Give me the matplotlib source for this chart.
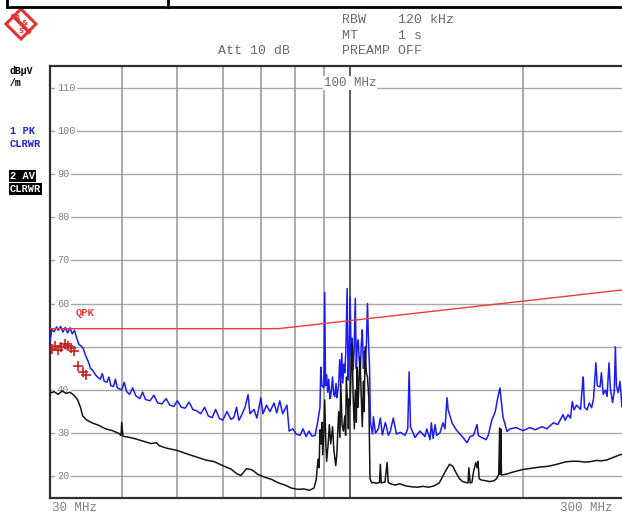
import matplotlib
matplotlib.use('Agg')
import matplotlib.pyplot as plt
from matplotlib.lines import Line2D
from matplotlib.patches import Polygon


W, H = 622, 514

# trace 1: peak detector, (MHz, dBuV/m)
pk_trace = [
    (30.0, 51.0), (30.2, 54.0), (30.5, 53.5), (30.8, 54.6), (31.0, 53.8), (31.3, 54.7),
    (31.6, 53.4), (31.9, 54.5), (32.2, 53.2), (32.5, 54.4), (32.8, 53.0), (33.1, 53.8),
    (33.4, 52.0), (33.7, 50.5), (34.0, 50.2), (34.3, 49.5), (34.6, 48.0), (35.0, 46.5),
    (35.3, 45.0), (35.6, 44.6), (36.0, 43.5), (36.3, 43.0), (36.7, 42.5), (37.0, 43.8),
    (37.3, 42.0), (37.7, 41.8), (38.0, 43.0), (38.3, 41.0), (38.7, 40.8), (39.0, 42.5),
    (39.3, 40.5), (39.7, 40.2), (40.0, 40.0), (40.4, 41.8), (40.8, 39.6), (41.3, 39.0),
    (41.8, 40.5), (42.3, 38.7), (43.0, 38.0), (43.5, 39.5), (44.0, 37.8), (44.8, 37.5),
    (45.5, 38.8), (46.2, 37.0), (47.0, 36.8), (47.8, 38.0), (48.5, 36.5), (49.3, 36.2),
    (50.0, 37.5), (50.8, 36.0), (51.6, 35.8), (52.4, 37.2), (53.2, 35.5), (54.0, 35.2),
    (54.9, 34.5), (55.8, 36.0), (56.6, 34.0), (57.5, 33.6), (58.3, 35.5), (59.2, 33.4),
    (60.0, 33.0), (61.0, 35.0), (62.0, 33.2), (62.7, 33.6), (63.4, 36.0), (64.0, 33.0),
    (64.5, 33.8), (65.6, 36.0), (66.4, 38.9), (66.9, 34.5), (68.0, 35.5), (68.8, 33.5),
    (69.9, 38.2), (70.5, 34.5), (71.5, 36.5), (72.5, 35.0), (73.7, 37.0), (74.5, 34.7),
    (75.4, 37.5), (76.3, 34.5), (77.6, 36.5), (78.3, 30.5), (79.5, 31.0), (80.5, 29.8),
    (81.8, 29.5), (82.8, 31.0), (83.8, 29.2), (84.8, 30.5), (85.8, 29.3), (86.9, 29.5),
    (87.9, 33.0), (88.6, 36.0), (88.9, 45.3), (89.3, 41.0), (90.0, 40.5), (90.3, 62.6),
    (90.6, 41.0), (91.0, 43.5), (91.4, 39.5), (91.8, 42.5), (92.2, 38.0), (92.5, 38.4),
    (93.2, 43.0), (93.6, 39.0), (94.0, 38.5), (94.5, 41.5), (94.8, 38.2), (95.2, 40.0),
    (95.5, 41.0), (95.9, 47.0), (96.3, 42.0), (96.7, 48.5), (97.1, 41.6), (97.5, 46.0),
    (97.9, 44.0), (98.3, 49.0), (98.8, 63.5), (99.2, 42.3), (99.6, 48.5), (100.0, 61.5),
    (100.4, 48.0), (100.8, 52.0), (101.2, 44.6), (101.6, 49.0), (102.1, 61.2), (102.5, 45.0),
    (102.9, 50.5), (103.3, 51.6), (103.7, 47.0), (104.2, 44.6), (104.6, 51.0), (105.0, 53.9),
    (105.5, 45.0), (105.9, 49.0), (106.3, 46.0), (106.7, 50.0), (107.2, 60.0), (107.6, 52.0),
    (108.1, 45.0), (108.5, 32.4), (109.4, 29.8),
    (109.8, 33.8), (110.7, 30.0), (112.0, 31.0), (112.9, 33.5), (113.8, 29.6), (115.2, 32.5),
    (116.6, 29.5), (117.5, 30.5), (118.9, 33.5), (120.4, 29.8), (122.4, 30.2), (124.6, 29.5),
    (126.0, 31.0), (126.7, 44.2), (127.4, 31.5), (129.7, 29.0), (132.3, 30.5), (135.0, 29.2),
    (136.0, 31.0), (137.8, 28.5), (138.5, 32.4), (139.5, 28.8), (140.6, 32.0), (141.5, 29.5),
    (143.4, 30.1), (145.1, 32.4), (146.3, 31.0), (147.5, 38.2), (148.2, 35.4), (150.5, 32.4),
    (153.0, 30.8), (157.3, 29.0), (159.8, 27.8), (161.8, 29.2), (164.0, 29.5), (166.4, 32.0),
    (167.2, 29.5), (168.4, 29.2), (172.5, 28.5), (174.0, 29.5), (176.6, 33.1), (179.0, 35.0),
    (180.5, 37.7), (182.4, 40.5), (184.6, 33.8), (187.6, 30.4), (190.0, 31.0), (194.5, 31.3),
    (200.0, 30.6), (205.7, 31.3), (210.0, 30.8), (216.0, 31.5), (220.0, 31.0), (226.0, 32.4),
    (230.0, 32.0), (234.9, 34.3), (237.0, 33.0), (239.7, 34.3), (242.0, 33.5), (243.8, 37.3),
    (245.5, 35.4), (248.0, 36.5), (252.0, 35.5), (253.8, 40.7), (254.8, 43.0), (256.0, 36.0),
    (258.7, 35.4), (261.0, 37.0), (263.5, 35.9), (265.5, 38.0), (268.0, 46.3), (269.5, 41.0),
    (272.5, 40.7), (274.0, 44.0), (276.0, 39.0), (278.5, 40.0), (280.3, 38.5), (282.5, 46.3),
    (284.0, 40.5), (286.5, 37.1), (288.5, 39.5), (289.8, 50.0), (291.0, 41.0), (293.0, 39.4),
    (295.2, 42.0), (297.6, 36.1), (300.0, 37.0),
]

# trace 2: average detector
av_trace = [
    (30.0, 39.3), (30.5, 39.6), (31.0, 39.0), (31.5, 39.8), (32.0, 39.2), (32.5, 39.5),
    (33.0, 38.8), (33.5, 37.8), (33.9, 36.0), (34.2, 34.0), (34.8, 33.0), (35.5, 32.4),
    (36.5, 31.8), (37.5, 31.0), (38.5, 30.6), (39.5, 30.0), (39.9, 29.5), (40.0, 32.5),
    (40.2, 29.3), (41.0, 29.1), (42.0, 28.8), (43.5, 28.2), (45.0, 27.6), (46.0, 27.8),
    (46.5, 27.1), (48.0, 26.5), (50.0, 26.0), (52.0, 25.2), (54.0, 24.5), (56.0, 23.8),
    (58.0, 23.4), (60.0, 22.5), (62.0, 21.7), (63.5, 20.6), (64.5, 20.2), (66.0, 21.8),
    (67.5, 21.5), (69.0, 20.5), (71.0, 19.8), (73.0, 19.3), (75.0, 18.5), (77.0, 18.0),
    (79.0, 17.3), (81.0, 17.0), (83.0, 17.1), (85.0, 16.8), (86.5, 17.3), (87.3, 19.3),
    (87.9, 24.0), (88.3, 22.0), (88.6, 30.8), (89.0, 27.5), (89.3, 32.5), (89.6, 25.0),
    (90.0, 30.5), (90.3, 37.7), (90.7, 28.0), (91.0, 23.5), (91.5, 27.0), (92.0, 32.0),
    (92.5, 27.5), (93.2, 31.5), (93.7, 26.0), (94.4, 22.5), (94.8, 25.0), (95.5, 35.0),
    (96.0, 29.0), (96.3, 42.0), (96.8, 32.0), (97.3, 30.5), (97.9, 34.0), (98.2, 29.5),
    (98.5, 43.0), (99.0, 36.0), (99.3, 31.0), (99.6, 38.0), (100.0, 36.5), (100.4, 45.0),
    (100.8, 50.9), (101.2, 39.0), (101.7, 31.0), (102.1, 40.0), (102.5, 32.5), (102.9, 45.3),
    (103.2, 36.0), (103.5, 40.0), (104.0, 47.6), (104.6, 38.0), (105.0, 31.5), (105.5, 42.0),
    (105.8, 35.0), (106.2, 50.0), (106.7, 44.0), (107.2, 43.0), (107.8, 38.0),
    (108.3, 19.5), (109.0, 18.5), (110.0, 18.6), (111.0, 18.4), (112.5, 18.6), (112.9, 22.8),
    (113.3, 18.5), (115.0, 18.7), (116.0, 23.2), (116.5, 18.6), (118.0, 18.2), (120.0, 18.0),
    (122.0, 18.3), (125.0, 17.8), (128.0, 17.6), (131.0, 17.5), (134.0, 17.7), (137.0, 17.5),
    (140.0, 17.8), (143.0, 18.5), (145.0, 20.0), (147.0, 21.5), (149.0, 22.8), (151.0, 22.3),
    (153.0, 20.8), (155.0, 19.5), (157.0, 18.8), (159.0, 18.6), (160.5, 18.5), (161.0, 22.0),
    (161.8, 18.5), (163.0, 18.6), (164.0, 21.0), (165.5, 23.2), (166.4, 22.0), (167.0, 23.5),
    (167.8, 19.5), (169.0, 19.2), (172.0, 19.0), (175.0, 18.8), (178.0, 19.0), (180.0, 19.5),
    (181.5, 20.5), (182.2, 31.2), (182.6, 20.5), (183.0, 31.0), (183.5, 20.3), (185.0, 20.4),
    (188.0, 20.6), (192.0, 21.0), (196.0, 21.3), (200.0, 21.6), (205.0, 21.8), (210.0, 22.0),
    (215.0, 22.2), (220.0, 22.3), (226.0, 22.6), (232.0, 23.0), (238.0, 23.4), (244.0, 23.5),
    (250.0, 23.5), (256.0, 23.3), (262.0, 23.4), (268.0, 23.7), (274.0, 23.6), (280.0, 23.8),
    (285.0, 24.2), (290.0, 24.6), (295.0, 25.0), (300.0, 25.2),
]

# quasi peak limit line
limit_freq = [30, 75, 300]
limit_level = [54.2, 54.2, 63.2]

# final measurement points (red crosses)
qp_freq = [30.2, 30.6, 31.0, 31.4, 31.8, 32.2, 32.6, 33.0, 33.6, 34.2, 34.6]
qp_level = [49.5, 50.2, 49.3, 50.0, 50.6, 50.3, 49.8, 49.0, 45.6, 44.2, 43.5]

level_ticks = [110, 100, 90, 80, 70, 60, 50, 40, 30, 20]
freq_grid = [40, 50, 60, 70, 80, 90, 200]


def fx(x):
    return x / W


def fy(y):
    return 1 - y / H


MONO = 'Liberation Mono'

fig = plt.figure(figsize=(W / 100, H / 100), dpi=100)
fig.patch.set_facecolor('white')

ax = fig.add_axes([fx(50), fy(498), 574 / W, 432 / H])
ax.set_xscale('log')
ax.set_xlim(30, 300)
ax.set_ylim(15, 115)
ax.tick_params(which='both', length=0, labelbottom=False, labelleft=False)
ax.xaxis.set_major_locator(matplotlib.ticker.NullLocator())
ax.xaxis.set_minor_locator(matplotlib.ticker.NullLocator())
ax.yaxis.set_major_locator(matplotlib.ticker.NullLocator())
for side in ['top', 'left', 'bottom']:
    ax.spines[side].set_color('#303030')
    ax.spines[side].set_linewidth(1.6)
ax.spines['right'].set_visible(False)

# grid
for lv in level_ticks:
    ax.axhline(lv, color='#a8a8a8', lw=1.0, zorder=1)
    ax.text(0.012, lv, str(lv), transform=ax.get_yaxis_transform(), fontsize=7.3,
            family=MONO, color='#808080', va='center', ha='left', zorder=2,
            bbox=dict(facecolor='white', edgecolor='none', pad=1.2))
for f in freq_grid:
    ax.axvline(f, color='#959595', lw=1.1, zorder=1)
ax.axvline(100, color='#404040', lw=1.2, zorder=1)

ax.text(100, 0.975, '100 MHz', transform=ax.get_xaxis_transform(), fontsize=9,
        family=MONO, color='#707070', ha='center', va='top', zorder=2,
        bbox=dict(facecolor='white', edgecolor='none', pad=0.5))

# traces
pk_freq, pk_level = zip(*pk_trace)
av_freq, av_level = zip(*av_trace)
ax.plot(pk_freq, pk_level, color='#1c1cf0', lw=1.1, zorder=3)
ax.plot(limit_freq, limit_level, color='#f03a3a', lw=1.0, zorder=4)
ax.plot(av_freq, av_level, color='#151515', lw=1.1, zorder=5)
ax.plot(qp_freq, qp_level, ls='none', marker='+', ms=7, mew=1.2, color='#c82020', zorder=6)
ax.text(33.2, 57.2, 'QPK', fontsize=7.5, family=MONO, color='#f03a3a', weight='bold', zorder=6)

# frequency span labels
fig.text(fx(52), fy(508), '30 MHz', fontsize=9, family=MONO, color='#808080', va='center')
fig.text(fx(612), fy(508), '300 MHz', fontsize=9, family=MONO, color='#808080',
         va='center', ha='right')

# left side trace info
fig.text(fx(10), fy(71), 'dBµV', fontsize=7, family=MONO, weight='bold', va='center')
fig.text(fx(10), fy(83), '/m', fontsize=7, family=MONO, weight='bold', va='center')
fig.text(fx(10), fy(131), '1 PK', fontsize=7.5, family=MONO, weight='bold',
         color='#2020e0', va='center')
fig.text(fx(10), fy(144), 'CLRWR', fontsize=7.5, family=MONO, weight='bold',
         color='#2020e0', va='center')
fig.text(fx(10), fy(176), '2 AV', fontsize=7.5, family=MONO, weight='bold', color='white',
         va='center', bbox=dict(facecolor='black', edgecolor='none', pad=0.8))
fig.text(fx(10), fy(189), 'CLRWR', fontsize=7.5, family=MONO, weight='bold', color='white',
         va='center', bbox=dict(facecolor='black', edgecolor='none', pad=0.8))

# header settings
head = dict(fontsize=9.5, family=MONO, color='#6a6a6a', va='center')
fig.text(fx(342), fy(20), 'RBW    120 kHz', **head)
fig.text(fx(342), fy(36), 'MT     1 s', **head)
fig.text(fx(342), fy(51), 'PREAMP OFF', **head)
fig.text(fx(218), fy(51), 'Att 10 dB', **head)

# remains of the table above the plot
fig.add_artist(Line2D([fx(7), 1], [fy(7), fy(7)], color='black', lw=2))
fig.add_artist(Line2D([fx(7), fx(7)], [1, fy(7)], color='black', lw=2))
fig.add_artist(Line2D([fx(168), fx(168)], [1, fy(7)], color='black', lw=2))

# R&S logo
red = '#e03434'
diamond = [(fx(21), fy(9)), (fx(36), fy(24)), (fx(21), fy(39)), (fx(6), fy(24))]
fig.add_artist(Polygon(diamond, closed=True, facecolor='white', edgecolor=red, lw=2.2,
                       transform=fig.transFigure))
fig.add_artist(Line2D([fx(13), fx(29)], [fy(16), fy(32)], color=red, lw=2.6))
fig.text(fx(17), fy(18), 'R', fontsize=5, color=red, weight='bold', ha='center', va='center')
fig.text(fx(25), fy(23), '&', fontsize=5, color=red, weight='bold', ha='center', va='center')
fig.text(fx(21), fy(31), 'S', fontsize=5, color=red, weight='bold', ha='center', va='center')

fig.savefig('out.png', dpi=100)
